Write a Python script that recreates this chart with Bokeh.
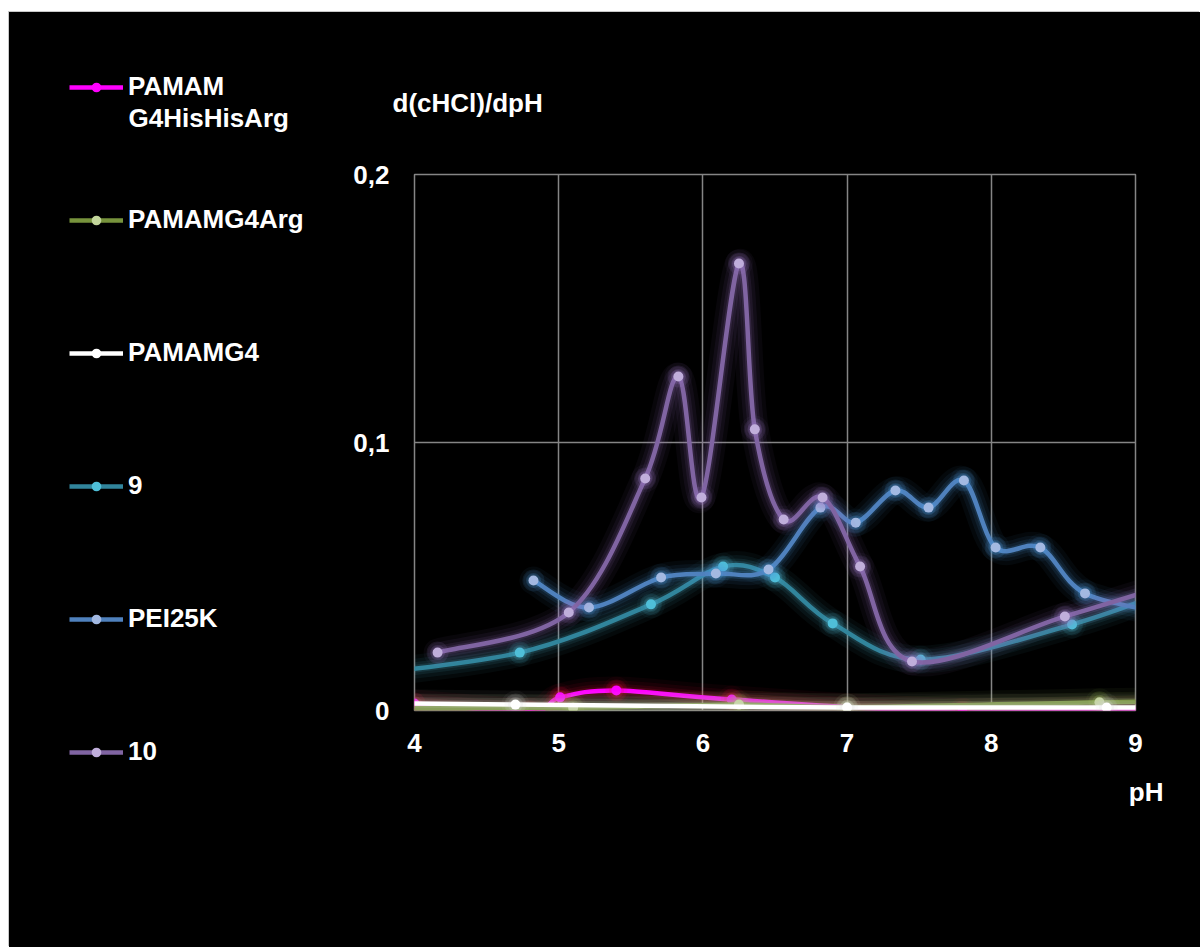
import numpy as np
from bokeh.plotting import figure
from bokeh.layouts import row
from bokeh.models import FixedTicker, Legend, LegendItem, Label, Range1d, Title
from bokeh.embed import file_html
from bokeh.resources import INLINE

# Buffer capacity curves: d(cHCl)/dpH against pH for each polymer
names = ["PAMAM", "PAMAMG4Arg", "PAMAMG4", "9", "PEI25K", "10"]
first_name_second_line = "G4HisHisArg"

ph_his = [4.00, 4.80, 5.01, 5.40, 6.20, 7.80, 9.60]
val_his = [0.0026, -0.0003, 0.0049, 0.0075, 0.0041, -0.0005, 0.0012]

ph_arg = [3.50, 5.10, 6.25, 7.00, 8.75, 9.50]
val_arg = [0.0008, 0.0010, 0.0022, 0.0012, 0.0031, 0.0036]

ph_g4 = [3.30, 4.70, 7.00, 8.80, 9.60]
val_g4 = [0.0030, 0.0022, 0.0011, 0.0011, 0.0012]

ph_9 = [3.50, 4.73, 5.64, 6.14, 6.50, 6.90, 7.51, 8.56, 9.30]
val_9 = [0.0125, 0.0216, 0.0396, 0.0537, 0.0496, 0.0325, 0.0190, 0.0321, 0.0460]

ph_pei = [4.825, 5.21, 5.71, 6.09, 6.455, 6.815, 7.06, 7.335, 7.565, 7.81,
          8.03, 8.34, 8.65, 9.25]
val_pei = [0.0485, 0.0384, 0.0496, 0.0511, 0.0526, 0.0757, 0.0701, 0.0821,
           0.0757, 0.0858, 0.0608, 0.0608, 0.0437, 0.0360]

ph_10 = [4.16, 5.07, 5.60, 5.83, 5.99, 6.25, 6.36, 6.56, 6.83, 7.09, 7.45,
         8.51, 9.30]
val_10 = [0.0216, 0.0366, 0.0866, 0.1246, 0.0795, 0.1668, 0.1049, 0.0713,
          0.0795, 0.0537, 0.0183, 0.0351, 0.0480]

x_ticks = [4, 5, 6, 7, 8, 9]
y_ticks = [0, 0.1, 0.2]
y_tick_labels = {0: "0", 0.1: "0,1", 0.2: "0,2"}

series = [
    (ph_his, val_his, "#FF00FF", "#FF00FF", "#E0103A"),
    (ph_arg, val_arg, "#77933C", "#C3D69B", "#9BBB59"),
    (ph_g4, val_g4, "#FFFFFF", "#FFFFFF", "#D9D9D9"),
    (ph_9, val_9, "#31859C", "#4FBFD8", "#4BACC6"),
    (ph_pei, val_pei, "#4F81BD", "#A3B9E2", "#4F9BE0"),
    (ph_10, val_10, "#8064A2", "#C0AEDB", "#9A78C8"),
]

FONT = "Liberation Sans"
SIZE = "26px"
HEIGHT = 935
LEG_W = 321


def smooth_segments(xs, ys):
    """Cubic Bezier segments through the points (Catmull-Rom control points)."""
    xs = np.asarray(xs, float)
    ys = np.asarray(ys, float)
    n = len(xs)
    qx = np.concatenate([[xs[0]], xs, [xs[-1]]])
    qy = np.concatenate([[ys[0]], ys, [ys[-1]]])
    cx0 = qx[1:n] + (qx[2:n + 1] - qx[0:n - 1]) / 6.0
    cy0 = qy[1:n] + (qy[2:n + 1] - qy[0:n - 1]) / 6.0
    cx1 = qx[2:n + 1] - (qx[3:n + 2] - qx[1:n]) / 6.0
    cy1 = qy[2:n + 1] - (qy[3:n + 2] - qy[1:n]) / 6.0
    return dict(x0=xs[:-1], y0=ys[:-1], x1=xs[1:], y1=ys[1:],
                cx0=cx0, cy0=cy0, cx1=cx1, cy1=cy1)


# ---- legend panel on the left (its ranges keep the key glyphs off view) ----
leg = figure(width=LEG_W, height=HEIGHT, output_backend="svg", toolbar_location=None,
             x_range=Range1d(100, 101), y_range=Range1d(100, 101),
             x_axis_type=None, y_axis_type=None,
             min_border=0, min_border_left=0, min_border_right=0,
             min_border_top=0, min_border_bottom=0)
leg.frame_align = False
leg.background_fill_color = "black"
leg.border_fill_color = "black"
leg.outline_line_color = None

# ---- chart panel ----
p = figure(width=870, height=HEIGHT, output_backend="svg", toolbar_location=None,
           x_range=Range1d(4, 9), y_range=Range1d(0, 0.2),
           min_border_left=84, min_border_right=65,
           min_border_top=162, min_border_bottom=237)
p.frame_align = False
p.background_fill_color = "black"
p.border_fill_color = "black"
p.outline_line_color = "#858585"
p.outline_line_width = 1.5

for g in p.grid:
    g.grid_line_color = "#858585"
    g.grid_line_width = 1.5

p.xaxis.ticker = FixedTicker(ticks=x_ticks)
p.yaxis.ticker = FixedTicker(ticks=y_ticks)
p.yaxis.major_label_overrides = y_tick_labels
for ax in (p.xaxis[0], p.yaxis[0]):
    ax.axis_line_color = None
    ax.major_tick_line_color = None
    ax.minor_tick_line_color = None
    ax.major_tick_in = 0
    ax.major_tick_out = 0
    ax.major_label_text_color = "white"
    ax.major_label_text_font = FONT
    ax.major_label_text_font_style = "bold"
    ax.major_label_text_font_size = SIZE
p.yaxis.major_label_standoff = 25
p.xaxis.major_label_standoff = 23

# y quantity written above the plot area, x quantity at the lower right
p.title.text = "d(cHCl)/dpH"
p.title.align = "left"
p.title.offset = -22
p.title.standoff = 114
p.title.text_color = "white"
p.title.text_font = FONT
p.title.text_font_style = "bold"
p.title.text_font_size = SIZE
p.add_layout(Title(text="pH", align="right", offset=-28, standoff=40,
                   text_color="white", text_font=FONT, text_font_style="bold",
                   text_font_size=SIZE), "below")

legend_items = []
for (xs, ys, line_c, mark_c, glow_c), name in zip(series, names):
    seg = smooth_segments(xs, ys)
    # soft halo under each curve
    for w, a in ((28, 0.05), (20, 0.07), (13, 0.10), (8, 0.14)):
        p.bezier(line_color=glow_c, line_width=w, line_alpha=a,
                 line_cap="round", **seg)
    p.bezier(line_color=line_c, line_width=4.5, line_cap="round", **seg)
    p.scatter(xs, ys, size=22, fill_color=glow_c, fill_alpha=0.12, line_color=None)
    p.scatter(xs, ys, size=15, fill_color=glow_c, fill_alpha=0.18, line_color=None)
    p.scatter(xs, ys, size=10, fill_color=mark_c, line_color=None)

    # key glyphs for the legend panel, same styling as the series
    key_line = leg.line(xs, ys, line_color=line_c, line_width=4.5)
    key_mark = leg.scatter(xs, ys, fill_color=mark_c, line_color=None)
    legend_items.append(LegendItem(label=name, renderers=[key_line, key_mark]))

legend = Legend(items=legend_items, location=(60, 180),
                label_text_font=FONT, label_text_font_style="bold",
                label_text_font_size=SIZE, label_text_color="white",
                glyph_width=54, glyph_height=24, label_height=24,
                label_standoff=5, spacing=102, padding=0, margin=0,
                border_line_color=None, background_fill_alpha=0)
leg.add_layout(legend, "center")
leg.add_layout(Label(x=119, y=HEIGHT - 105, x_units="screen", y_units="screen",
                     text=first_name_second_line, text_font=FONT,
                     text_font_style="bold", text_font_size=SIZE,
                     text_color="white", text_baseline="middle",
                     text_align="left"))

layout = row(leg, p, spacing=0, margin=(12, 0, 0, 9),
             styles={"background-color": "black",
                     "box-shadow": "-1px -1px 0 #c8c8c8"})
open("out.html", "w").write(file_html(layout, INLINE))
